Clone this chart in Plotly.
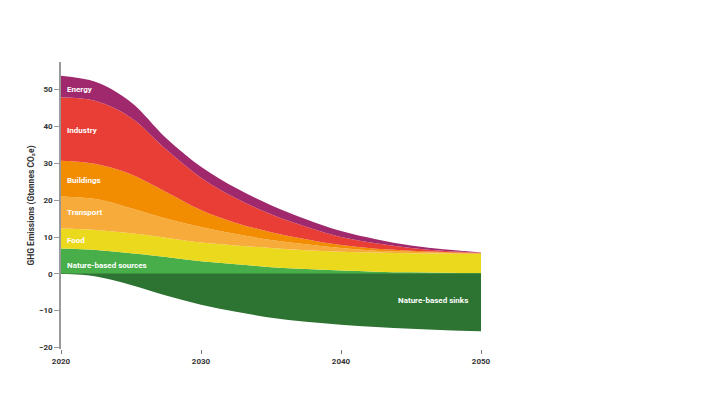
import plotly.graph_objects as go

years = [2020, 2022.5, 2025, 2027.5, 2030, 2032.5, 2035, 2037.5, 2040, 2042.5, 2045, 2047.5, 2050]

# band thickness per sector, Gt CO2e
nature_sources = [6.9, 6.5, 5.6, 4.6, 3.4, 2.6, 1.8, 1.3, 0.9, 0.6, 0.4, 0.3, 0.2]
food = [5.4, 5.4, 5.4, 5.2, 5.1, 5.1, 5.2, 5.1, 5.1, 5.2, 5.2, 5.2, 5.2]
transport = [8.7, 8.4, 6.8, 5.2, 4.2, 3.1, 2.2, 1.6, 1.0, 0.5, 0.4, 0.2, 0.1]
buildings = [9.7, 9.5, 9.2, 7.2, 4.6, 3.0, 2.1, 1.4, 0.8, 0.5, 0.3, 0.2, 0.1]
industry = [17.2, 17.1, 15.4, 11.6, 8.8, 6.7, 4.9, 3.4, 2.2, 1.5, 0.7, 0.3, 0.1]
energy = [5.9, 5.2, 4.2, 3.1, 3.0, 2.8, 2.4, 2.0, 1.6, 1.1, 0.7, 0.4, 0.1]
nature_sinks = [0, -0.7, -3.0, -5.9, -8.4, -10.3, -11.9, -13.0, -13.8, -14.4, -14.9, -15.3, -15.6]

sectors = [
    ("Nature-based sources", nature_sources, "#47ae4a"),
    ("Food", food, "#ebd91e"),
    ("Transport", transport, "#f7ab3a"),
    ("Buildings", buildings, "#f28c00"),
    ("Industry", industry, "#e83e36"),
    ("Energy", energy, "#a0296e"),
]

# label positions (x, y) in data units
label_pos = {
    "Energy": (2020.3, 50),
    "Industry": (2020.3, 39),
    "Buildings": (2020.3, 25.3),
    "Transport": (2020.3, 16.6),
    "Food": (2020.3, 9),
    "Nature-based sources": (2020.3, 2.4),
}

fig = go.Figure()

fig.add_trace(go.Scatter(
    x=years, y=nature_sinks, mode="lines", fill="tozeroy",
    line=dict(width=0, shape="spline", smoothing=1.0, color="#2d7332"),
    fillcolor="#2d7332", name="Nature-based sinks", showlegend=False,
))

for name, vals, color in sectors:
    fig.add_trace(go.Scatter(
        x=years, y=vals, mode="lines", stackgroup="pos",
        line=dict(width=0, shape="spline", smoothing=1.0, color=color),
        fillcolor=color, name=name, showlegend=False,
    ))

label_font = dict(family="Roboto", size=8, color="white", weight="bold")
for name, (lx, ly) in label_pos.items():
    fig.add_annotation(x=lx, y=ly, text=name, showarrow=False,
                       xanchor="left", yanchor="middle", font=label_font)
fig.add_annotation(x=2046.6, y=-7.2, text="Nature-based sinks", showarrow=False,
                   xanchor="center", yanchor="middle", font=label_font)

fig.update_layout(
    width=720, height=405,
    margin=dict(l=53, r=247, t=54, b=64),
    plot_bgcolor="white", paper_bgcolor="white",
    font=dict(family="Roboto", size=8, color="#333333"),
    xaxis=dict(
        range=[2020, 2050], tickvals=[2020, 2030, 2040, 2050],
        showgrid=False, zeroline=False, showline=False,
        ticks="outside", ticklen=4, tickcolor="#777777",
        tickfont=dict(size=8, weight="bold", color="#333333"),
    ),
    yaxis=dict(
        range=[-20.4, 57.5], tickvals=[-20, -10, 0, 10, 20, 30, 40, 50],
        showgrid=False, showline=True, linecolor="#999999", linewidth=1.5,
        zeroline=True, zerolinecolor="#222222", zerolinewidth=1,
        ticks="outside", ticklen=5, tickcolor="#999999",
        tickfont=dict(size=8, weight="bold", color="#333333"),
        title=dict(text="GHG Emissions (Gtonnes CO₂e)", standoff=3,
                   font=dict(size=8.5, weight="bold", color="#333333")),
    ),
)

fig.write_html("out.html")
